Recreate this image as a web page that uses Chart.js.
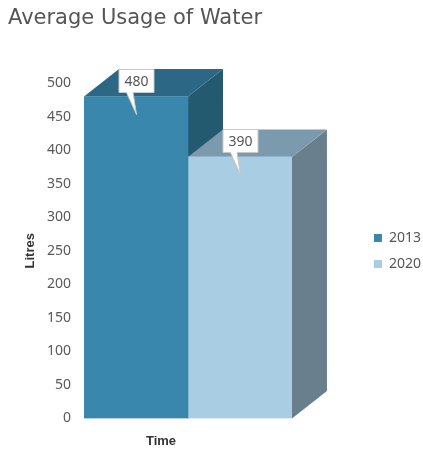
<!DOCTYPE html>
<html>
<head>
<meta charset="utf-8">
<title>Average Usage of Water</title>
<script src="https://cdn.jsdelivr.net/npm/chart.js@4.4.0/dist/chart.umd.min.js"></script>
<style>
  html, body { margin: 0; padding: 0; background: #fff; }
  canvas { display: block; }
</style>
</head>
<body>
<canvas id="waterChart" width="423" height="452"></canvas>
<script>
// chart data
var categories = ['Time'];
var seriesNames = ['2013', '2020'];
var usage2013 = [480];
var usage2020 = [390];
var yMin = 0;
var yMax = 500;
var yStep = 50;

// depth of the fake 3d faces
var depthX = 35;
var depthY = 27.5;

var bar3dPlugin = {
    id: 'bar3d',
    beforeDatasetsDraw: function (chart) {
        var ctx = chart.ctx;
        chart.data.datasets.forEach(function (ds, i) {
            var meta = chart.getDatasetMeta(i);
            meta.data.forEach(function (bar) {
                var p = bar.getProps(['x', 'y', 'base', 'width'], true);
                var l = p.x - p.width / 2;
                var r = p.x + p.width / 2;
                ctx.save();
                //side face
                ctx.fillStyle = ds.sideColor;
                ctx.beginPath();
                ctx.moveTo(r, p.y);
                ctx.lineTo(r + depthX, p.y - depthY);
                ctx.lineTo(r + depthX, p.base - depthY);
                ctx.lineTo(r, p.base);
                ctx.closePath();
                ctx.fill();
                //top face
                ctx.fillStyle = ds.topColor;
                ctx.beginPath();
                ctx.moveTo(l, p.y);
                ctx.lineTo(l + depthX, p.y - depthY);
                ctx.lineTo(r + depthX, p.y - depthY);
                ctx.lineTo(r, p.y);
                ctx.closePath();
                ctx.fill();
                ctx.restore();
            });
        });
    }
};

var calloutPlugin = {
    id: 'callout',
    afterDatasetsDraw: function (chart) {
        var ctx = chart.ctx;
        chart.data.datasets.forEach(function (ds, i) {
            var meta = chart.getDatasetMeta(i);
            meta.data.forEach(function (bar, j) {
                var p = bar.getProps(['x', 'y'], true);
                var cx = Math.round(p.x) + 0.5;
                var w = 35, h = 23;
                var bottom = Math.round(p.y - 5) + 0.5;
                var top = bottom - h;
                ctx.save();
                ctx.beginPath();
                ctx.moveTo(cx - w / 2, top);
                ctx.lineTo(cx + w / 2, top);
                ctx.lineTo(cx + w / 2, bottom);
                ctx.lineTo(cx - 3.5, bottom);
                ctx.lineTo(cx, p.y + 18);
                ctx.lineTo(cx - 10, bottom);
                ctx.lineTo(cx - w / 2, bottom);
                ctx.closePath();
                ctx.fillStyle = '#ffffff';
                ctx.fill();
                ctx.strokeStyle = '#c9c9c9';
                ctx.lineWidth = 1;
                ctx.stroke();
                ctx.fillStyle = '#555555';
                ctx.font = '14px "Noto Sans"';
                ctx.textAlign = 'center';
                ctx.textBaseline = 'middle';
                ctx.fillText(String(ds.data[j]), cx, top + h / 2 + 1);
                ctx.restore();
            });
        });
    }
};

function initWaterChart() {
    var chartData = {
        labels: categories,
        datasets: [
            {
                label: seriesNames[0],
                data: usage2013,
                backgroundColor: '#3a87ad',
                topColor: '#2c6885',
                sideColor: '#235a70',
                borderWidth: 0,
                barPercentage: 1,
                categoryPercentage: 1
            },
            {
                label: seriesNames[1],
                data: usage2020,
                backgroundColor: '#a9cde3',
                topColor: '#7c9aad',
                sideColor: '#6a7f8d',
                borderWidth: 0,
                barPercentage: 1,
                categoryPercentage: 1
            }
        ]
    };

    var chartOptions = {
        responsive: false,
        animation: false,
        // negative padding: the x tick padding is counted twice in the axis height
        layout: { padding: { left: 8, right: -8, top: 0, bottom: -12 } },
        plugins: {
            title: {
                display: true,
                text: 'Average Usage of Water',
                align: 'start',
                color: '#555555',
                font: { family: '"DejaVu Sans"', size: 21, weight: 'normal' },
                padding: { top: 6, bottom: 52 }
            },
            legend: {
                position: 'right',
                // blank title only pushes the items down
                title: {
                    display: true,
                    text: ' ',
                    font: { size: 10 },
                    padding: { top: 26, bottom: 0 }
                },
                labels: {
                    boxWidth: 8,
                    boxHeight: 8,
                    padding: 12,
                    color: '#555555',
                    font: { family: '"Noto Sans"', size: 14 }
                }
            },
            tooltip: { enabled: false }
        },
        scales: {
            x: {
                grid: { display: false, drawTicks: false },
                border: { display: false },
                ticks: {
                    color: '#333333',
                    padding: 15,
                    labelOffset: -27,
                    font: { family: '"Liberation Sans"', size: 13, weight: 'bold' }
                }
            },
            y: {
                min: yMin,
                max: yMax,
                grid: { display: false, drawTicks: false },
                border: { display: false },
                ticks: {
                    stepSize: yStep,
                    padding: 13,
                    color: '#595959',
                    font: { family: '"Noto Sans"', size: 14 }
                },
                title: {
                    display: true,
                    text: 'Litres',
                    color: '#333333',
                    padding: { top: 15, bottom: 0 },
                    font: { family: '"Liberation Sans"', size: 13, weight: 'bold' }
                },
                afterFit: function (scale) { scale.width = 76; }
            },
            // empty axis, only keeps room for the 3d depth before the legend
            gap: {
                type: 'linear',
                position: 'right',
                display: true,
                grid: { display: false, drawTicks: false },
                border: { display: false },
                ticks: { display: false },
                afterFit: function (scale) { scale.width = 70; }
            }
        }
    };

    var ctx = document.getElementById('waterChart').getContext('2d');
    return new Chart(ctx, {
        type: 'bar',
        data: chartData,
        options: chartOptions,
        plugins: [bar3dPlugin, calloutPlugin]
    });
}

initWaterChart();
</script>
</body>
</html>
